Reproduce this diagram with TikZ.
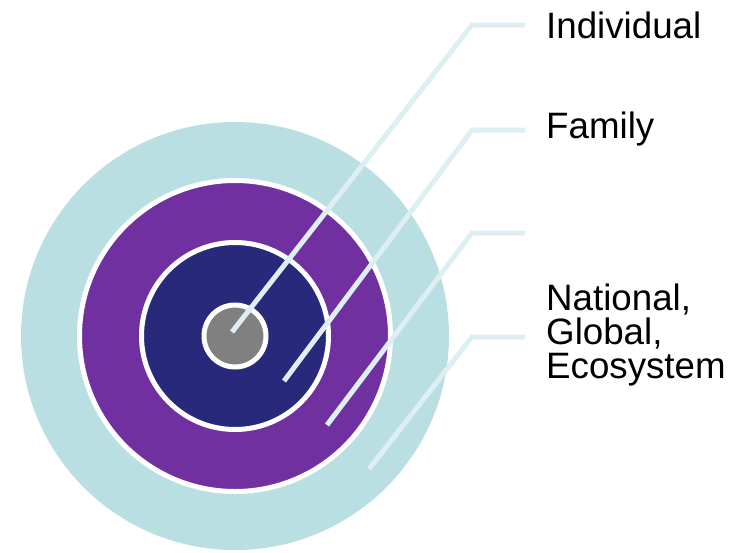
\documentclass[tikz,border=0pt]{standalone}
\usepackage{fontspec}
\setmainfont{Liberation Sans}
\definecolor{outerblue}{HTML}{BADFE3}
\definecolor{purp}{HTML}{7030A0}
\definecolor{darkblu}{HTML}{29297B}
\definecolor{coregrey}{HTML}{808080}
\definecolor{leadcol}{HTML}{DDEFF2}
\tikzset{
  ring/.style={draw=white, line width=5pt},
  leader/.style={draw=leadcol, line width=5pt, line join=miter},
  lab/.style={anchor=west, inner sep=0pt, font=\fontsize{36.7}{34}\selectfont, align=left}
}
\begin{document}
\begin{tikzpicture}[x=1pt,y=-1pt]
\useasboundingbox (0,0) rectangle (735,552);
\coordinate (c) at (235,336);
\fill[outerblue] (c) circle (214);
\path[ring, fill=purp] (c) circle (155.5);
\path[ring, fill=darkblu] (c) circle (93.5);
\path[ring, fill=coregrey] (c) circle (31);
% leader end points
\coordinate (e1) at (232,332);
\coordinate (e2) at (284,381);
\coordinate (e3) at (327,425);
\coordinate (e4) at (369,469);
\coordinate (b1) at (472,25);
\coordinate (b2) at (472,130);
\coordinate (b3) at (472,233);
\coordinate (b4) at (472,337);
\coordinate (h1) at (525,25);
\coordinate (h2) at (525,130);
\coordinate (h3) at (525,233);
\coordinate (h4) at (525,337);
\draw[leader] (e1) -- (b1) -- (h1);
\draw[leader] (e2) -- (b2) -- (h2);
\draw[leader] (e3) -- (b3) -- (h3);
\draw[leader] (e4) -- (b4) -- (h4);
\node[lab] (l1) at (546,25) {Individual};
\node[lab] (l2) at (546,129) {Family};
\node[lab] (l4) at (546,335) {National,\\Global,\\Ecosystem};
\end{tikzpicture}
\end{document}
